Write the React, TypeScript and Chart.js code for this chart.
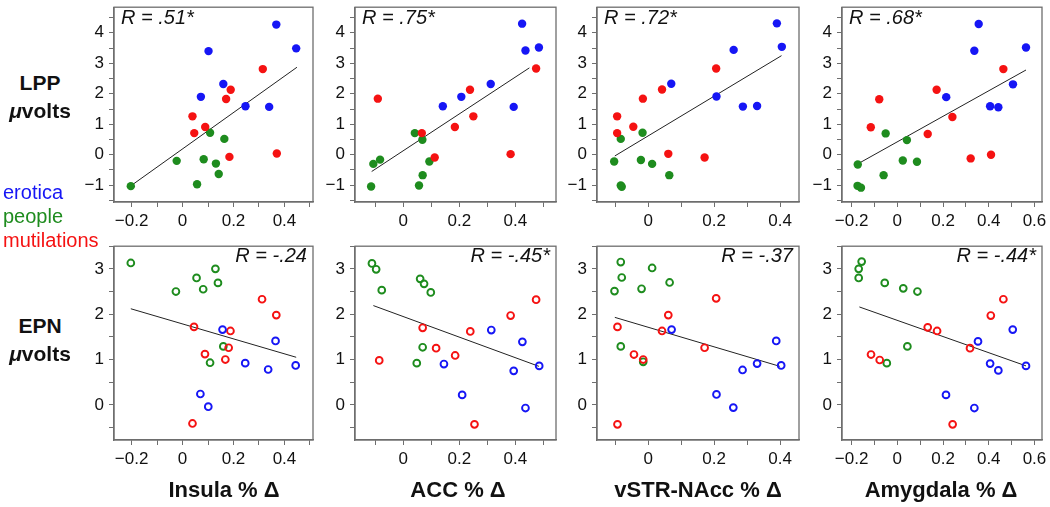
import React, { useEffect, useRef } from "react";
import { Chart, registerables } from "chart.js";

Chart.register(...registerables);

// ---------- DATA (x = % signal change, y = µV) ----------
// LPP (top row)
const insulaLppErotica = [[0.368, 4.27], [0.446, 3.49], [0.102, 3.4], [0.16, 2.32], [0.072, 1.9], [0.247, 1.59], [0.34, 1.57]];
const insulaLppPeople = [[0.108, 0.72], [0.164, 0.52], [-0.023, -0.2], [0.083, -0.15], [0.131, -0.29], [0.142, -0.63], [0.057, -0.97], [-0.203, -1.03]];
const insulaLppMutilations = [[0.315, 2.81], [0.189, 2.13], [0.171, 1.83], [0.039, 1.26], [0.046, 0.71], [0.089, 0.91], [0.184, -0.07], [0.37, 0.04]];
const insulaLppFit = [[-0.203, -1.02], [0.449, 2.87]];

const accLppErotica = [[0.424, 4.3], [0.436, 3.42], [0.484, 3.52], [0.312, 2.32], [0.207, 1.9], [0.141, 1.59], [0.394, 1.57]];
const accLppPeople = [[0.041, 0.71], [0.068, 0.49], [0.093, -0.22], [0.069, -0.67], [0.056, -1.01], [-0.083, -0.16], [-0.107, -0.3], [-0.115, -1.04]];
const accLppMutilations = [[0.474, 2.83], [0.238, 2.13], [0.25, 1.26], [0.184, 0.91], [0.066, 0.71], [0.112, -0.09], [0.383, 0.02], [-0.091, 1.84]];
const accLppFit = [[-0.113, -0.55], [0.45, 2.85]];

const vstrLppErotica = [[0.39, 4.31], [0.405, 3.54], [0.259, 3.44], [0.07, 2.33], [0.207, 1.91], [0.287, 1.58], [0.33, 1.6]];
const vstrLppPeople = [[-0.083, 0.52], [-0.017, 0.72], [-0.103, -0.22], [-0.022, -0.17], [0.012, -0.3], [0.064, -0.67], [-0.083, -1.01], [-0.08, -1.05]];
const vstrLppMutilations = [[0.206, 2.83], [0.042, 2.14], [-0.016, 1.84], [-0.094, 1.26], [-0.094, 0.71], [-0.045, 0.92], [0.061, 0.03], [0.171, -0.09]];
const vstrLppFit = [[-0.101, -0.04], [0.404, 3.25]];

const amyLppErotica = [[0.356, 4.29], [0.337, 3.41], [0.563, 3.52], [0.506, 2.31], [0.214, 1.89], [0.406, 1.59], [0.442, 1.56]];
const amyLppPeople = [[-0.051, 0.7], [0.042, 0.48], [-0.173, -0.32], [0.024, -0.19], [0.086, -0.23], [-0.06, -0.67], [-0.174, -1.02], [-0.159, -1.08]];
const amyLppMutilations = [[0.464, 2.81], [0.172, 2.13], [-0.079, 1.82], [0.241, 1.24], [-0.116, 0.9], [0.133, 0.68], [0.321, -0.12], [0.41, 0.0]];
const amyLppFit = [[-0.173, -0.3], [0.563, 2.78]];

// EPN (bottom row)
const insulaEpnErotica = [[0.157, 1.66], [0.365, 1.41], [0.246, 0.92], [0.336, 0.78], [0.444, 0.87], [0.07, 0.24], [0.101, -0.04]];
const insulaEpnPeople = [[-0.026, 2.5], [0.055, 2.8], [0.081, 2.55], [0.129, 3.0], [0.139, 2.69], [0.16, 1.29], [0.108, 0.93], [-0.203, 3.13]];
const insulaEpnMutilations = [[0.312, 2.33], [0.368, 1.98], [0.045, 1.72], [0.188, 1.63], [0.181, 1.26], [0.088, 1.12], [0.168, 1.0], [0.039, -0.41]];
const insulaEpnFit = [[-0.203, 2.12], [0.446, 1.05]];

const accEpnErotica = [[0.314, 1.65], [0.425, 1.39], [0.145, 0.9], [0.394, 0.75], [0.485, 0.86], [0.21, 0.22], [0.436, -0.07]];
const accEpnPeople = [[0.06, 2.78], [0.074, 2.67], [0.098, 2.48], [0.069, 1.27], [0.048, 0.92], [-0.112, 3.12], [-0.097, 2.99], [-0.077, 2.53]];
const accEpnMutilations = [[0.474, 2.32], [0.383, 1.97], [0.069, 1.7], [0.239, 1.62], [0.117, 1.25], [0.185, 1.09], [0.254, -0.43], [-0.086, 0.98]];
const accEpnFit = [[-0.107, 2.19], [0.484, 0.85]];

const vstrEpnErotica = [[0.071, 1.66], [0.388, 1.41], [0.33, 0.91], [0.286, 0.77], [0.403, 0.87], [0.207, 0.23], [0.258, -0.06]];
const vstrEpnPeople = [[-0.083, 3.15], [0.012, 3.02], [-0.08, 2.81], [0.065, 2.7], [-0.102, 2.51], [-0.02, 2.56], [-0.083, 1.29], [-0.015, 0.95]];
const vstrEpnMutilations = [[0.206, 2.35], [0.061, 1.98], [-0.093, 1.72], [0.042, 1.63], [0.171, 1.26], [-0.043, 1.11], [-0.015, 1.0], [-0.093, -0.43]];
const vstrEpnFit = [[-0.101, 1.93], [0.399, 0.85]];

const amyEpnErotica = [[0.505, 1.66], [0.353, 1.4], [0.406, 0.91], [0.442, 0.76], [0.563, 0.86], [0.213, 0.22], [0.337, -0.07]];
const amyEpnPeople = [[-0.156, 3.16], [-0.169, 3.0], [-0.169, 2.8], [-0.055, 2.69], [0.026, 2.57], [0.088, 2.5], [0.044, 1.29], [-0.046, 0.92]];
const amyEpnMutilations = [[0.464, 2.33], [0.409, 1.97], [0.133, 1.71], [0.174, 1.63], [0.318, 1.25], [-0.115, 1.11], [-0.077, 0.99], [0.242, -0.43]];
const amyEpnFit = [[-0.166, 2.16], [0.563, 0.86]];

const regionTitles = ["Insula % Δ", "ACC % Δ", "vSTR-NAcc % Δ", "Amygdala % Δ"];
const lppRLabels = ["R = .51*", "R = .75*", "R = .72*", "R = .68*"];
const epnRLabels = ["R = -.24", "R = -.45*", "R = -.37", "R = -.44*"];
const categoryNames = ["erotica", "people", "mutilations"];

// ---------- STYLE / LAYOUT ----------
const BLUE = "rgb(22,22,245)";
const GREEN = "rgb(30,140,30)";
const RED = "rgb(245,18,18)";
const FONT = "'Liberation Sans', Arial, Helvetica, sans-serif";

const COLS = [
  { left: 114, right: 313, xmin: -0.269, xmax: 0.512 },
  { left: 355, right: 556, xmin: -0.1725, xmax: 0.545 },
  { left: 597, right: 799, xmin: -0.155, xmax: 0.457 },
  { left: 842, right: 1042, xmin: -0.242, xmax: 0.633 },
];
const ROWS = [
  { top: 4, bottom: 202, ymin: -1.55, ymax: 4.84, filled: true },
  { top: 243, bottom: 440, ymin: -0.775, ymax: 3.5, filled: false },
];

const PAD_TOP = 12;
const PAD_RIGHT = 12;
const Y_AXIS_W = 45;
const X_AXIS_H = 40;

const minus = (s: string) => s.replace("-", "\u2212");

const boxPlugin = {
  id: "boxFrame",
  afterDraw(chart: any) {
    const { ctx, chartArea } = chart;
    ctx.save();
    ctx.strokeStyle = "#6e6e6e";
    ctx.lineWidth = 1.3;
    ctx.strokeRect(chartArea.left, chartArea.top, chartArea.right - chartArea.left, chartArea.bottom - chartArea.top);
    ctx.restore();
  },
};

const toPts = (arr: number[][]) => arr.map(([x, y]) => ({ x, y }));

type PanelProps = {
  col: number;
  row: number;
  erotica: number[][];
  people: number[][];
  mutilations: number[][];
  fit: number[][];
};

function Panel({ col, row, erotica, people, mutilations, fit }: PanelProps) {
  const ref = useRef<HTMLCanvasElement | null>(null);
  const c = COLS[col];
  const r = ROWS[row];
  const boxW = c.right - c.left;
  const boxH = r.bottom - r.top;
  const W = Y_AXIS_W + boxW + PAD_RIGHT;
  const H = PAD_TOP + boxH + X_AXIS_H;

  useEffect(() => {
    if (!ref.current) return;
    const filled = r.filled;
    const pointDs = (data: number[][], color: string) => ({
      type: "scatter" as const,
      data: toPts(data),
      backgroundColor: filled ? color : "rgba(255,255,255,0)",
      borderColor: color,
      borderWidth: filled ? 0 : 1.9,
      pointRadius: filled ? 4.2 : 3.4,
      pointHoverRadius: filled ? 4.2 : 3.4,
      showLine: false,
    });
    const chart = new Chart(ref.current, {
      type: "scatter",
      data: {
        datasets: [
          pointDs(erotica, BLUE),
          pointDs(mutilations, RED),
          pointDs(people, GREEN),
          {
            type: "line" as const,
            data: toPts(fit),
            borderColor: "#222",
            borderWidth: 1,
            pointRadius: 0,
            showLine: true,
            fill: false,
          } as any,
        ],
      },
      options: {
        responsive: false,
        maintainAspectRatio: false,
        animation: false,
        events: [],
        layout: { padding: { top: PAD_TOP, right: PAD_RIGHT, left: 0, bottom: 0 } },
        plugins: { legend: { display: false }, tooltip: { enabled: false }, title: { display: false } },
        scales: {
          x: {
            type: "linear",
            min: c.xmin,
            max: c.xmax,
            afterFit: (s: any) => {
              s.height = X_AXIS_H;
            },
            border: { display: true, color: "#6e6e6e", width: 1.3 },
            grid: { display: true, drawOnChartArea: false, drawTicks: true, tickLength: 5, color: "#6e6e6e" },
            ticks: {
              stepSize: 0.1,
              includeBounds: false,
              autoSkip: false,
              maxRotation: 0,
              padding: 4,
              color: "#111",
              font: { family: FONT, size: 17 },
              callback: (v: any) => {
                const n = Math.round(Number(v) * 10);
                if (n % 2 !== 0) return "";
                if (n === 0) return "0";
                return minus((n / 10).toFixed(1));
              },
            },
          },
          y: {
            type: "linear",
            min: r.ymin,
            max: r.ymax,
            afterFit: (s: any) => {
              s.width = Y_AXIS_W;
            },
            border: { display: true, color: "#6e6e6e", width: 1.3 },
            grid: { display: true, drawOnChartArea: false, drawTicks: true, tickLength: 5, color: "#6e6e6e" },
            ticks: {
              stepSize: 0.5,
              includeBounds: false,
              autoSkip: false,
              padding: 5,
              color: "#111",
              font: { family: FONT, size: 17 },
              callback: (v: any) => {
                const n = Math.round(Number(v) * 2);
                if (n % 2 !== 0) return "";
                return minus(String(n / 2));
              },
            },
          },
        },
      } as any,
      plugins: [boxPlugin],
    });
    return () => chart.destroy();
  }, []);

  return (
    <canvas
      ref={ref}
      width={W}
      height={H}
      style={{ position: "absolute", left: c.left - Y_AXIS_W, top: r.top - PAD_TOP, width: W, height: H }}
    />
  );
}

const textBase: React.CSSProperties = {
  position: "absolute",
  fontFamily: FONT,
  whiteSpace: "nowrap",
  lineHeight: 1,
};

export default function App() {
  useEffect(() => {
    document.body.style.margin = "0";
    document.body.style.background = "#fff";
  }, []);

  const lppSets = [
    [insulaLppErotica, insulaLppPeople, insulaLppMutilations, insulaLppFit],
    [accLppErotica, accLppPeople, accLppMutilations, accLppFit],
    [vstrLppErotica, vstrLppPeople, vstrLppMutilations, vstrLppFit],
    [amyLppErotica, amyLppPeople, amyLppMutilations, amyLppFit],
  ];
  const epnSets = [
    [insulaEpnErotica, insulaEpnPeople, insulaEpnMutilations, insulaEpnFit],
    [accEpnErotica, accEpnPeople, accEpnMutilations, accEpnFit],
    [vstrEpnErotica, vstrEpnPeople, vstrEpnMutilations, vstrEpnFit],
    [amyEpnErotica, amyEpnPeople, amyEpnMutilations, amyEpnFit],
  ];
  const titleCenters = [224, 458, 698, 941];
  const legendColors = [BLUE, GREEN, RED];

  return (
    <div style={{ position: "relative", width: 1050, height: 507, background: "#fff", overflow: "hidden" }}>
      {lppSets.map((s, i) => (
        <Panel key={"l" + i} col={i} row={0} erotica={s[0]} people={s[1]} mutilations={s[2]} fit={s[3]} />
      ))}
      {epnSets.map((s, i) => (
        <Panel key={"e" + i} col={i} row={1} erotica={s[0]} people={s[1]} mutilations={s[2]} fit={s[3]} />
      ))}

      {/* R labels */}
      {lppRLabels.map((t, i) => (
        <div
          key={"rl" + i}
          style={{ ...textBase, left: COLS[i].left + 7, top: ROWS[0].top + 13, transform: "translateY(-50%)", fontSize: 20, fontStyle: "italic", color: "#111" }}
        >
          {t}
        </div>
      ))}
      {epnRLabels.map((t, i) => (
        <div
          key={"re" + i}
          style={{ ...textBase, right: 1050 - COLS[i].right + 6, top: ROWS[1].top + 12, transform: "translateY(-50%)", fontSize: 20, fontStyle: "italic", color: "#111" }}
        >
          {t}
        </div>
      ))}

      {/* row labels */}
      {[
        { t: "LPP", y: 82 },
        { t: null, y: 110 },
        { t: "EPN", y: 325 },
        { t: null, y: 353 },
      ].map((o, i) => (
        <div
          key={"row" + i}
          style={{ ...textBase, left: 40, top: o.y, transform: "translate(-50%,-50%)", fontSize: 21, fontWeight: "bold", color: "#111" }}
        >
          {o.t ? o.t : (
            <>
              <i>μ</i>volts
            </>
          )}
        </div>
      ))}

      {/* legend */}
      {categoryNames.map((n, i) => (
        <div
          key={"lg" + i}
          style={{ ...textBase, left: 3, top: 192 + i * 24, transform: "translateY(-50%)", fontSize: 20, color: legendColors[i] }}
        >
          {n}
        </div>
      ))}

      {/* x titles */}
      {regionTitles.map((t, i) => (
        <div
          key={"xt" + i}
          style={{ ...textBase, left: titleCenters[i], top: 490, transform: "translate(-50%,-50%)", fontSize: 22, fontWeight: "bold", color: "#111" }}
        >
          {t}
        </div>
      ))}
    </div>
  );
}
